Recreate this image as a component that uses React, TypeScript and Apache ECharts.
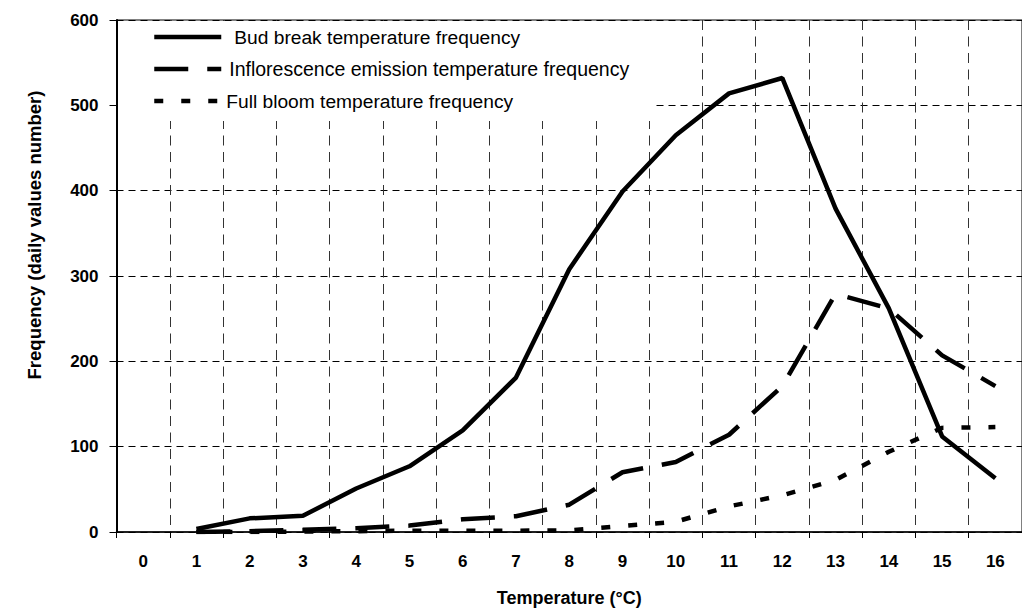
import React, { useEffect, useRef } from "react";
import * as echarts from "echarts";

const categories = ["0", "1", "2", "3", "4", "5", "6", "7", "8", "9", "10", "11", "12", "13", "14", "15", "16"];
const budBreak = [null, 3.5, 16, 19, 51, 77, 119, 181, 308, 399, 465, 514, 532, 379, 262, 112, 63];
const inflorescence = [null, 0, 1, 2.5, 4.5, 7.5, 15, 18.5, 32, 70, 82, 114, 171, 279, 262, 207, 171];
const fullBloom = [null, 0, 0, 0.5, 1, 1.5, 1.5, 1.5, 2, 7, 12, 30, 43, 61, 94, 122, 123];
const seriesNames = [
  "Bud break temperature frequency",
  "Inflorescence emission temperature frequency",
  "Full bloom temperature frequency",
];
const yMin = 0;
const yMax = 600;
const yInterval = 100;

const FONT = '"Liberation Sans", Arial, sans-serif';

export default function App() {
  const ref = useRef<HTMLDivElement>(null);
  useEffect(() => {
    if (!ref.current) return;
    const chart = echarts.init(ref.current, null, { renderer: "svg" });
    chart.setOption({
      animation: false,
      backgroundColor: "#fff",
      textStyle: { fontFamily: FONT },
      grid: {
        left: 116.5,
        top: 20,
        width: 914,
        height: 512,
        show: true,
        borderColor: "#000",
        borderWidth: 1,
        backgroundColor: "transparent",
      },
      legend: {
        orient: "vertical",
        left: 152,
        top: 27,
        padding: 0,
        itemWidth: 67,
        itemHeight: 14,
        itemGap: 12,
        textStyle: { fontFamily: FONT, fontSize: 19.2, color: "#000", lineHeight: 20 },
        lineStyle: { width: 4.5 },
        itemStyle: { opacity: 0 },
        data: [
          { name: seriesNames[0], textStyle: { padding: [0, 0, 0, 8] } },
          { name: seriesNames[1], textStyle: { padding: [0, 0, 0, 3], fontSize: 19.5 } },
          { name: seriesNames[2] },
        ],
      },
      xAxis: {
        type: "category",
        data: categories,
        boundaryGap: true,
        name: "Temperature (°C)",
        nameLocation: "middle",
        nameGap: 57,
        nameTextStyle: { fontFamily: FONT, fontSize: 18, fontWeight: "bold", color: "#000" },
        axisLine: { show: true, lineStyle: { color: "#000", width: 1.5 } },
        axisTick: { show: true, interval: 0, length: 6, lineStyle: { color: "#000", width: 1 } },
        axisLabel: { interval: 0, margin: 21, fontFamily: FONT, fontSize: 17, fontWeight: "bold", color: "#000" },
        splitLine: { show: true, interval: 0, lineStyle: { color: "#333", width: 1, type: [10, 6.5] } },
      },
      yAxis: [
        {
          type: "value",
          min: yMin,
          max: yMax,
          interval: yInterval,
          position: "left",
          axisLine: { show: true, lineStyle: { color: "#000", width: 2 } },
          axisTick: { show: true, length: 7, lineStyle: { color: "#000", width: 1 } },
          axisLabel: { margin: 18, fontFamily: FONT, fontSize: 17, fontWeight: "bold", color: "#000" },
          splitLine: { show: true, lineStyle: { color: "#000", width: 1, type: [7, 5] } },
        },
        {
          type: "value",
          min: yMin,
          max: yMax,
          interval: yInterval,
          position: "left",
          axisLine: { show: false },
          axisTick: { show: true, inside: true, length: 6, lineStyle: { color: "#000", width: 1 } },
          axisLabel: { show: false },
          splitLine: { show: false },
        },
      ],
      graphic: [
        {
          type: "rect",
          z: 1,
          silent: true,
          shape: { x: 118, y: 21, width: 534, height: 100 },
          style: { fill: "#fff" },
        },
        {
          type: "text",
          x: 34,
          y: 235,
          rotation: Math.PI / 2,
          style: {
            text: "Frequency (daily values number)",
            fontFamily: FONT,
            fontSize: 18.5,
            fontWeight: "bold",
            fill: "#000",
            align: "center",
            verticalAlign: "middle",
          },
        },
      ],
      series: [
        {
          name: seriesNames[0],
          type: "line",
          data: budBreak,
          symbol: "none",
          lineStyle: { color: "#000", width: 4.5, type: "solid" },
          itemStyle: { color: "#000" },
        },
        {
          name: seriesNames[1],
          type: "line",
          data: inflorescence,
          symbol: "none",
          lineStyle: { color: "#000", width: 4.5, type: [34, 19] },
          itemStyle: { color: "#000" },
        },
        {
          name: seriesNames[2],
          type: "line",
          data: fullBloom,
          symbol: "none",
          lineStyle: { color: "#000", width: 4.5, type: [9, 18] },
          itemStyle: { color: "#000" },
        },
      ],
    });
    return () => chart.dispose();
  }, []);
  return (
    <div
      ref={ref}
      style={{ position: "fixed", left: 0, top: 0, width: 1022, height: 615, background: "#fff" }}
    />
  );
}
